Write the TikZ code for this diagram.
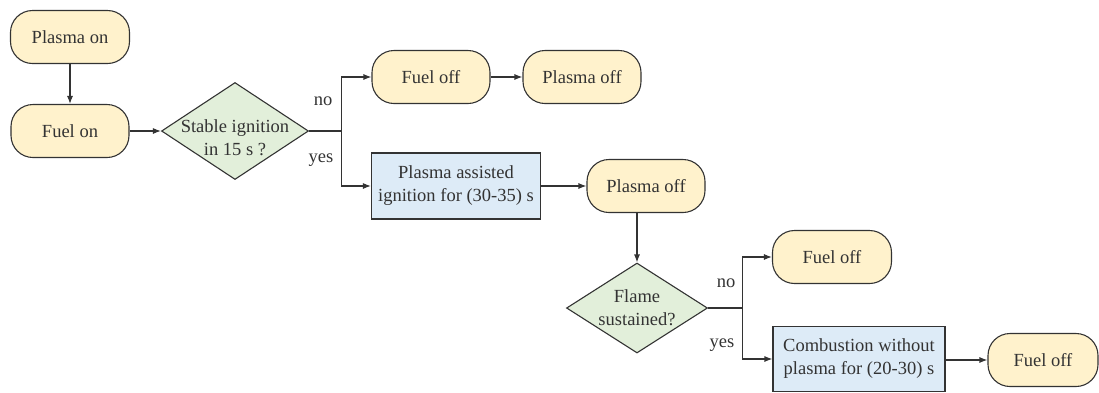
\documentclass[tikz,border=0pt]{standalone}
\usepackage{fontspec}
\setmainfont{Liberation Serif}
\newfontfamily\tnr{Liberation Serif}
\usetikzlibrary{shapes.geometric,arrows.meta}
\definecolor{yfill}{HTML}{FFF2CC}
\definecolor{gfill}{HTML}{E2EFDA}
\definecolor{bfill}{HTML}{DDEBF7}
\definecolor{ink}{HTML}{333333}
\tikzset{
  base/.style={draw=ink, line width=1.1pt, text=ink, font=\tnr\fontsize{18.5}{23}\selectfont, inner sep=0pt, align=center},
  term/.style={base, fill=yfill, rounded corners=22pt, minimum height=53pt},
  proc/.style={base, fill=bfill, rectangle, minimum height=66pt},
  dia/.style={base, fill=gfill, diamond},
  dtext/.style={text=ink, font=\tnr\fontsize{18.5}{23}\selectfont, align=center, inner sep=0pt},
  lbl/.style={text=ink, font=\tnr\fontsize{18.5}{23}\selectfont, inner sep=0pt},
  arr/.style={draw=ink, line width=1.1pt, -{Latex[length=8pt,width=6pt]}},
}
\begin{document}
\begin{tikzpicture}[x=1pt,y=-1pt]
\useasboundingbox (0,0) rectangle (1099,392);
% nodes
\node[term, minimum width=119pt] (po) at (70,37) {Plasma on};
\node[term, minimum width=118pt] (fon) at (70,131) {Fuel on};
\node[dia, minimum width=147pt, minimum height=97pt] (d1) at (235,131) {};
\node[dtext] (d1t) at ([yshift=-7pt]d1.center) {Stable ignition\\in 15 s ?};
\node[term, minimum width=118pt] (fo1) at (431,77) {Fuel off};
\node[term, minimum width=118pt] (pl1) at (582,77) {Plasma off};
\node[proc, minimum width=169pt] (pa) at (456,186) {Plasma assisted\\ignition for (30-35) s};
\node[term, minimum width=118pt] (pl2) at (646,186) {Plasma off};
\node[dia, minimum width=141pt, minimum height=90pt] (d2) at (637,308) {};
\node[dtext] (d2t) at (d2) {Flame\\sustained?};
\node[term, minimum width=119pt] (fo2) at (832,257) {Fuel off};
\node[proc, minimum width=172pt, minimum height=65pt] (cb) at (859,359) {Combustion without\\plasma for (20-30) s};
\node[term, minimum width=110pt] (fo3) at (1043,360) {Fuel off};
% labels
\node[lbl] (no1) at (323,101) {no};
\node[lbl] (yes1) at (321,160) {yes};
\node[lbl] (no2) at (726,283) {no};
\node[lbl] (yes2) at (722,345) {yes};
% connectors
\draw[arr] (po) -- (fon);
\draw[arr] (fon) -- (d1);
\coordinate (b1) at ([xshift=32pt]d1.east);
\draw[arr] (d1.east) -- (b1) |- (fo1.west);
\draw[arr] (b1) |- (pa.west);
\draw[arr] (fo1) -- (pl1);
\draw[arr] (pa) -- (pl2);
\draw[arr] (d2.north |- pl2.south) -- (d2.north);
\coordinate (b2) at ([xshift=34pt]d2.east);
\draw[arr] (d2.east) -- (b2) |- (fo2.west);
\draw[arr] (b2) |- (cb.west);
\draw[arr] (cb.east |- fo3.west) -- (fo3.west);
\end{tikzpicture}
\end{document}
